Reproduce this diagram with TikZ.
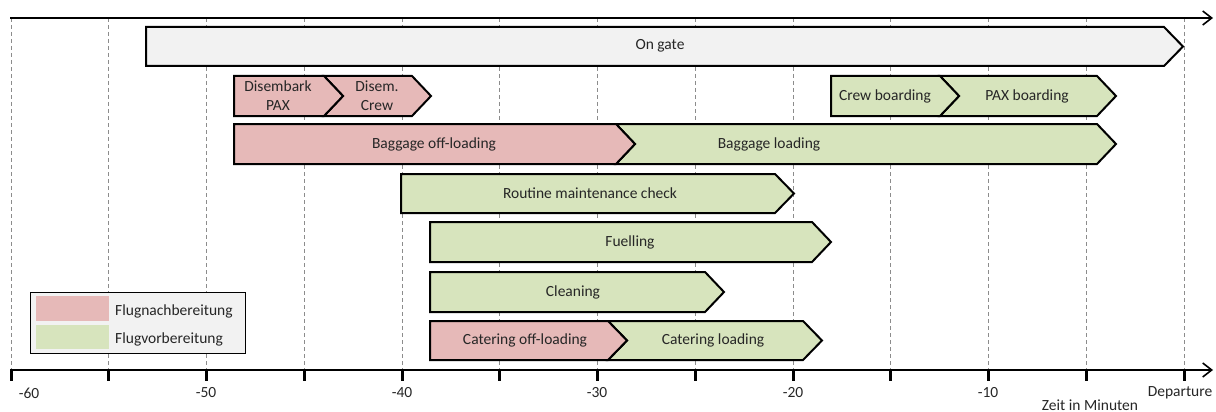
\documentclass[tikz,border=0pt]{standalone}
\usepackage{fontspec}
\setmainfont{Carlito}
\usetikzlibrary{arrows.meta}
\definecolor{post}{HTML}{E6B9B8}
\definecolor{prep}{HTML}{D7E4BD}
\definecolor{gate}{HTML}{F2F2F2}
\definecolor{ink}{HTML}{262626}
\tikzset{
  barline/.style={draw=black, line width=2pt, line join=miter},
  lbl/.style={text=ink, font=\fontsize{15.5}{19}\selectfont, inner sep=0pt, align=center},
  grid/.style={draw=black!45, line width=0.8pt, dash pattern=on 4pt off 3pt},
  axis/.style={line width=1.8pt, -{Straight Barb[length=9pt,width=14pt,line width=1.6pt]}},
  tick/.style={line width=3pt},
}
% chevron bar: x-left, x-right (top corner), y-top, y-bottom, fill
\newcommand\taskbar[5]{%
  \path[barline, fill=#5] (#1,#3) -- (#2,#3) -- ({#2+19},{(#3+#4)/2}) -- (#2,#4) -- (#1,#4) -- cycle;}
% same with a notch on the left side
\newcommand\taskbarn[5]{%
  \path[barline, fill=#5] (#1,#3) -- (#2,#3) -- ({#2+19},{(#3+#4)/2}) -- (#2,#4) -- (#1,#4) -- ({#1+19},{(#3+#4)/2}) -- cycle;}
\begin{document}
\begin{tikzpicture}[x=1pt, y=-1pt]
\useasboundingbox (0,0) rectangle (1216,412);

% dashed grid every 5 minutes
\foreach \k in {0,...,12}
  \draw[grid] ({11+97.75*\k},18) -- ({11+97.75*\k},370);

% time axes
\coordinate (tl) at (10,18);
\coordinate (tr) at (1213,18);
\coordinate (bl) at (10,370);
\coordinate (br) at (1213,370);
\draw[axis] (tl) -- (tr);
\draw[axis] (bl) -- (br);
\foreach \k in {0,...,12}
  \draw[tick] ({11+97.75*\k},369) -- ({11+97.75*\k},381);

% tick labels
\node[lbl] (m60) at (29,393) {-60};
\node[lbl] (m50) at (206,393) {-50};
\node[lbl] (m40) at (402,393) {-40};
\node[lbl] (m30) at (597,393) {-30};
\node[lbl] (m20) at (793,393) {-20};
\node[lbl] (m10) at (988,393) {-10};
\node[lbl] (dep) at (1180,393) {Departure};
\node[lbl] (unit) at (1090,405) {Zeit in Minuten};

% on gate
\taskbar{146}{1164}{27}{66}{gate}
\node[lbl] (ongate) at (660,46) {On gate};

% disembarking
\taskbarn{324}{412}{76}{116}{post}
\taskbar{234}{324}{76}{116}{post}
\node[lbl] (dpax) at (278,96) {Disembark\\PAX};
\node[lbl] (dcrew) at (377,96) {Disem.\\Crew};

% boarding
\taskbarn{940}{1097}{76}{116}{prep}
\taskbar{831}{940}{76}{116}{prep}
\node[lbl] (crewb) at (885,96) {Crew boarding};
\node[lbl] (paxb) at (1027,96) {PAX boarding};

% baggage
\taskbarn{616}{1097}{124}{164}{prep}
\taskbar{234}{616}{124}{164}{post}
\node[lbl] (bagoff) at (434,144) {Baggage off-loading};
\node[lbl] (bagon) at (769,144) {Baggage loading};

% maintenance
\taskbar{401}{775}{174}{213}{prep}
\node[lbl] (maint) at (590,193) {Routine maintenance check};

% fuelling
\taskbar{430}{812}{222}{262}{prep}
\node[lbl] (fuel) at (630,242) {Fuelling};

% cleaning
\taskbar{430}{705}{272}{312}{prep}
\node[lbl] (clean) at (573,292) {Cleaning};

% catering
\taskbarn{608}{803}{321}{360}{prep}
\taskbar{430}{608}{321}{360}{post}
\node[lbl] (catoff) at (525,340) {Catering off-loading};
\node[lbl] (caton) at (713,340) {Catering loading};

% legend
\node[draw=black, line width=0.9pt, fill=gate, minimum width=215pt, minimum height=61pt, inner sep=0pt] (legend) at (137.5,322.5) {};
\node[fill=post, minimum width=73pt, minimum height=25pt, inner sep=0pt] (swpost) at (72.5,308.5) {};
\node[fill=prep, minimum width=73pt, minimum height=24pt, inner sep=0pt] (swprep) at (72.5,337) {};
\node[lbl, anchor=west] (lpost) at (115,311) {Flugnachbereitung};
\node[lbl, anchor=west] (lprep) at (115,339) {Flugvorbereitung};
\end{tikzpicture}
\end{document}
